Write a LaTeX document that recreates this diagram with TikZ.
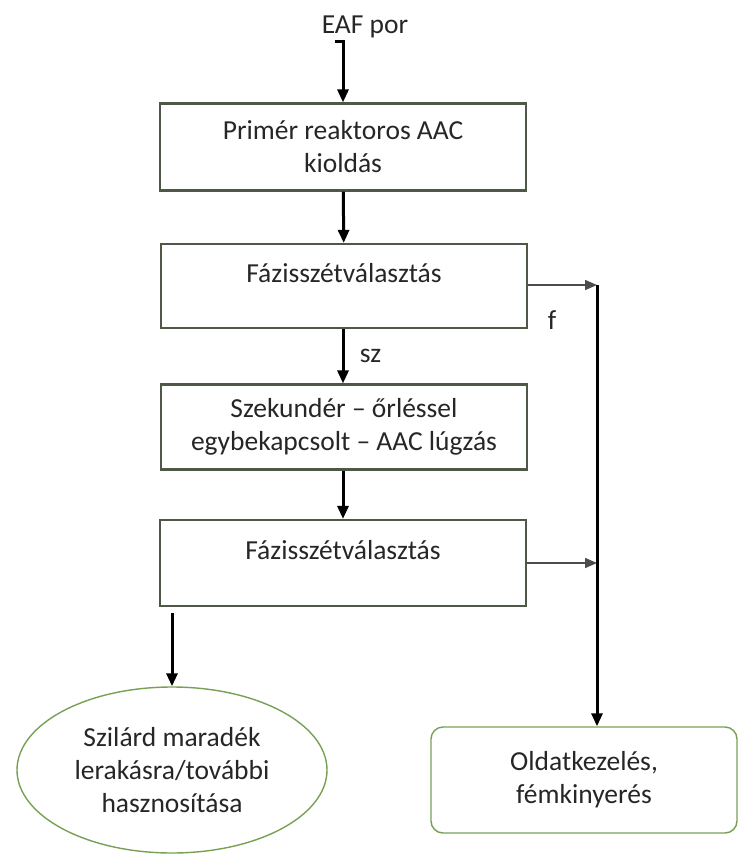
\documentclass[tikz,border=0pt]{standalone}
\usepackage{fontspec}
\setmainfont{Carlito}
\usetikzlibrary{arrows.meta,shapes.geometric}
\definecolor{boxLine}{RGB}{78, 88, 70}
\definecolor{termLine}{RGB}{120, 160, 85}
\definecolor{textGray}{RGB}{38, 38, 38}

\begin{document}
\begin{tikzpicture}[x=1pt, y=-1pt,
    every node/.style={text=textGray, font=\fontsize{27.5}{33}\selectfont},
    procbox/.style={draw=boxLine, line width=2.2pt, minimum width=366pt, align=center},
    termbox/.style={draw=termLine, line width=1.4pt, align=center},
    mainflow/.style={line width=3pt, -{Triangle[length=13pt,width=11pt]}},
    sideflow/.style={draw=black!70, line width=1.5pt, -{Triangle[length=12pt,width=10pt]}}]
    \useasboundingbox (0,0) rectangle (739,854);

    % Process chain
    \node (por) at (365,27) {EAF por};
    \node[procbox, minimum height=87pt] (primer) at (343,147) {Primér reaktoros AAC\\kioldás};
    \node[procbox, minimum height=84pt, text depth=27pt] (fazis1) at (344,286) {Fázisszétválasztás};
    \node[procbox, minimum height=85pt] (szek) at (344,427) {Szekundér – őrléssel\\egybekapcsolt – AAC lúgzás};
    \node[procbox, minimum height=86pt, text depth=27pt] (fazis2) at (343,563) {Fázisszétválasztás};

    % End products
    \node[termbox, ellipse, minimum width=310pt, minimum height=166pt] (maradek) at (172,770) {Szilárd maradék\\lerakásra/további\\hasznosítása};
    \node[termbox, rounded corners=12pt, minimum width=306pt, minimum height=106pt] (oldat) at (584,780) {Oldatkezelés,\\fémkinyerés};

    \coordinate (j1) at (597,285);
    \coordinate (j2) at (597,563);

    \draw[mainflow, shorten <=8pt] (por) -- (por.south -| primer.north) -- (primer.north);
    \draw[mainflow] (primer) -- (fazis1);
    \draw[mainflow] (fazis1.south -| primer) -- (szek.north -| primer) node[midway, right=12pt] (sz) {sz};
    \draw[mainflow] (szek.south -| primer) -- (fazis2.north -| primer);
    \draw[mainflow, shorten <=6pt] (maradek.north |- fazis2.south) -- (maradek.north);

    % Liquid phase
    \draw[sideflow] (fazis1.east |- j1) -- (j1);
    \draw[sideflow] (fazis2.east |- j2) -- (j2);
    \draw[mainflow] (j1) -- (j1 |- oldat.north);
    \node (f) at (552,320) {f};
\end{tikzpicture}
\end{document}
